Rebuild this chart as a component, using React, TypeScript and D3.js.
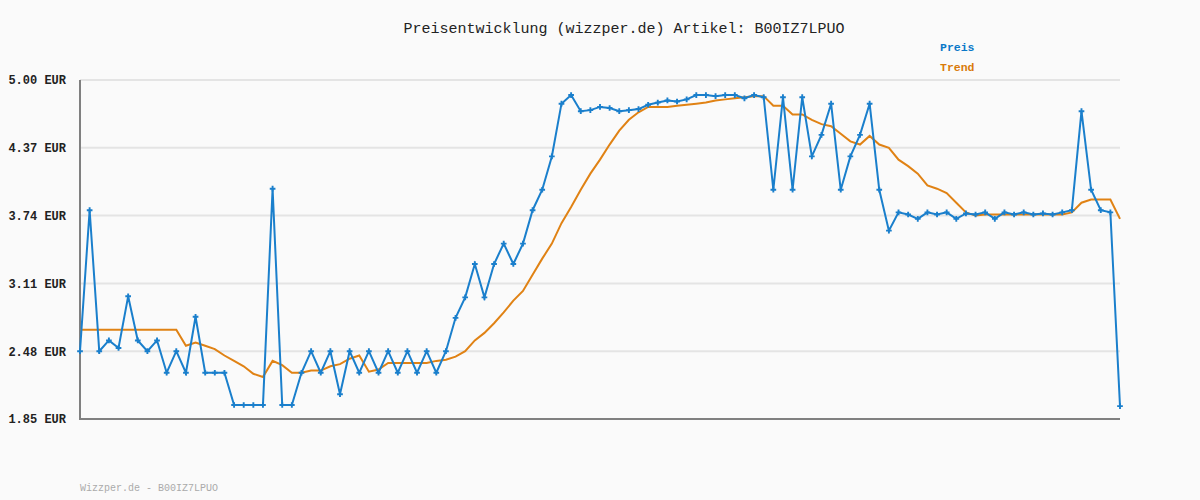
import React, { Component } from 'react';
import * as d3 from 'd3';

const title = 'Preisentwicklung (wizzper.de) Artikel: B00IZ7LPUO';
const footer = 'Wizzper.de - B00IZ7LPUO';
const seriesNames = ['Preis', 'Trend'];
const yTicks = [5.0, 4.37, 3.74, 3.11, 2.48, 1.85];

const preis = [
    2.48, 3.79, 2.48, 2.58, 2.51, 2.99, 2.58, 2.48, 2.58, 2.28,
    2.48, 2.28, 2.80, 2.28, 2.28, 2.28, 1.98, 1.98, 1.98, 1.98,
    3.99, 1.98, 1.98, 2.28, 2.48, 2.28, 2.48, 2.08, 2.48, 2.28,
    2.48, 2.28, 2.48, 2.28, 2.48, 2.28, 2.48, 2.28, 2.48, 2.79,
    2.98, 3.29, 2.98, 3.29, 3.48, 3.29, 3.48, 3.79, 3.98, 4.29,
    4.78, 4.86, 4.71, 4.72, 4.75, 4.74, 4.71, 4.72, 4.73, 4.77,
    4.79, 4.81, 4.80, 4.82, 4.86, 4.86, 4.85, 4.86, 4.86, 4.83,
    4.86, 4.84, 3.98, 4.84, 3.98, 4.84, 4.29, 4.49, 4.78, 3.98,
    4.29, 4.49, 4.78, 3.98, 3.60, 3.77, 3.75, 3.71, 3.77, 3.75,
    3.77, 3.71, 3.76, 3.75, 3.77, 3.71, 3.77, 3.75, 3.77, 3.75,
    3.76, 3.75, 3.77, 3.79, 4.71, 3.98, 3.79, 3.77, 1.97
];

const trend = [
    2.68, 2.68, 2.68, 2.68, 2.68, 2.68, 2.68, 2.68, 2.68, 2.68,
    2.68, 2.53, 2.56, 2.53, 2.50, 2.44, 2.39, 2.34, 2.27, 2.24,
    2.39, 2.35, 2.28, 2.28, 2.30, 2.30, 2.34, 2.36, 2.41, 2.44,
    2.29, 2.31, 2.37, 2.37, 2.37, 2.37, 2.37, 2.39, 2.40, 2.43,
    2.48, 2.58, 2.65, 2.74, 2.84, 2.95, 3.04, 3.19, 3.34, 3.48,
    3.67, 3.82, 3.98, 4.13, 4.26, 4.40, 4.53, 4.63, 4.70, 4.75,
    4.75, 4.75, 4.76, 4.77, 4.78, 4.79, 4.81, 4.82, 4.83, 4.84,
    4.85, 4.85, 4.76, 4.76, 4.68, 4.68, 4.63, 4.59, 4.57, 4.50,
    4.43, 4.40, 4.48, 4.40, 4.37, 4.26, 4.20, 4.13, 4.02, 3.99,
    3.95, 3.86, 3.77, 3.74, 3.75, 3.75, 3.75, 3.75, 3.75, 3.75,
    3.75, 3.75, 3.75, 3.77, 3.86, 3.89, 3.89, 3.89, 3.71
];

const BLUE = '#1a7fcc';
const ORANGE = '#e08214';

export default class App extends Component {
    private canvas: any = React.createRef();
    private width = 1200;
    private height = 500;
    private margin = { top: 80, right: 80, bottom: 81, left: 80 };

    componentDidMount() {
        this.buildChart();
    }

    buildChart = () => {
        const root = d3.select(this.canvas.current);
        root.selectAll('*').remove();

        const svg = root.append('svg')
            .attr('width', this.width)
            .attr('height', this.height)
            .style('display', 'block')
            .style('background', '#fafafa');

        const xScale = d3.scaleLinear()
            .domain([0, preis.length - 1])
            .range([this.margin.left, this.width - this.margin.right]);

        const yScale = d3.scaleLinear()
            .domain([1.85, 5.0])
            .range([this.height - this.margin.bottom, this.margin.top]);

        const mono = '"Liberation Mono", "DejaVu Sans Mono", monospace';

        // gridlines
        svg.selectAll('.grid')
            .data(yTicks.slice(0, -1))
            .enter().append('line')
            .attr('class', 'grid')
            .attr('x1', xScale(0))
            .attr('x2', xScale(preis.length - 1))
            .attr('y1', (d: number) => yScale(d))
            .attr('y2', (d: number) => yScale(d))
            .attr('stroke', '#e4e4e4')
            .attr('stroke-width', 2);

        // axes
        const yAxis = d3.axisLeft(yScale)
            .tickValues(yTicks)
            .tickSize(0)
            .tickPadding(14)
            .tickFormat((d: any) => d3.format('.2f')(d) + ' EUR');

        const gy = svg.append('g')
            .attr('transform', 'translate(' + xScale(0) + ',0)')
            .call(yAxis);
        gy.select('.domain').remove();
        gy.selectAll('text')
            .attr('font-family', mono)
            .attr('font-size', 12)
            .attr('font-weight', 'bold')
            .attr('fill', '#222');

        svg.append('line')
            .attr('x1', xScale(0))
            .attr('x2', xScale(0))
            .attr('y1', yScale(5.0))
            .attr('y2', yScale(1.85))
            .attr('stroke', '#808080')
            .attr('stroke-width', 2);

        svg.append('line')
            .attr('x1', xScale(0) - 1)
            .attr('x2', xScale(preis.length - 1))
            .attr('y1', yScale(1.85))
            .attr('y2', yScale(1.85))
            .attr('stroke', '#808080')
            .attr('stroke-width', 2);

        const line = d3.line<number>()
            .x((d: number, i: number) => xScale(i))
            .y((d: number) => yScale(d));

        svg.append('path')
            .datum(trend)
            .attr('d', line)
            .attr('fill', 'none')
            .attr('stroke', ORANGE)
            .attr('stroke-width', 2);

        svg.append('path')
            .datum(preis)
            .attr('d', line)
            .attr('fill', 'none')
            .attr('stroke', BLUE)
            .attr('stroke-width', 2);

        const cross = d3.symbol().type(d3.symbolCross).size(18);
        svg.selectAll('.marker')
            .data(preis)
            .enter().append('path')
            .attr('class', 'marker')
            .attr('d', cross)
            .attr('transform', (d: number, i: number) => 'translate(' + xScale(i) + ',' + yScale(d) + ')')
            .attr('fill', BLUE);

        // title
        svg.append('text')
            .attr('x', 624)
            .attr('y', 33)
            .attr('text-anchor', 'middle')
            .attr('font-family', mono)
            .attr('font-size', 15)
            .attr('fill', '#222')
            .text(title);

        // legend
        svg.selectAll('.legend')
            .data(seriesNames)
            .enter().append('text')
            .attr('class', 'legend')
            .attr('x', 940)
            .attr('y', (d: string, i: number) => 51 + i * 20)
            .attr('font-family', mono)
            .attr('font-size', 11.5)
            .attr('font-weight', 'bold')
            .attr('fill', (d: string, i: number) => i === 0 ? '#0a78c8' : '#d97a0a')
            .text((d: string) => d);

        // footer
        svg.append('text')
            .attr('x', 80)
            .attr('y', 491)
            .attr('font-family', mono)
            .attr('font-size', 10)
            .attr('fill', '#aaaaaa')
            .text(footer);
    }

    render() {
        return (
            <div style={{ position: 'absolute', left: 0, top: 0 }}>
                <div ref={this.canvas}></div>
            </div>
        );
    }
}
